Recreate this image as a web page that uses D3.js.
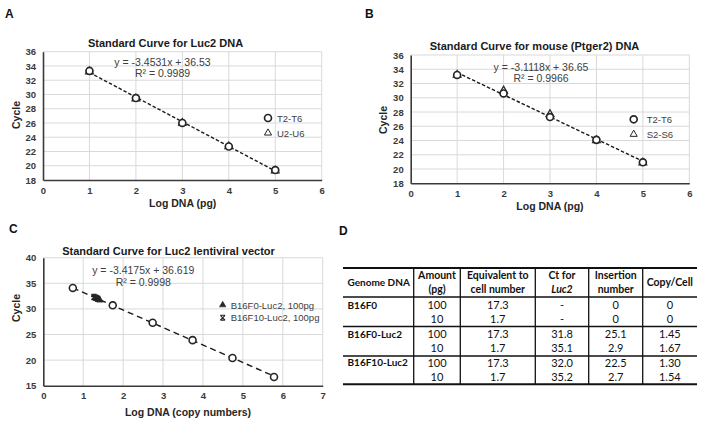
<!DOCTYPE html>
<html><head><meta charset="utf-8">
<script src="https://cdn.jsdelivr.net/npm/d3@7"></script>
<style>
body{margin:0;background:#fff;}
svg{display:block;}
</style></head>
<body>
<svg id="chart" width="704" height="424"></svg>
<script>
// ---------------- DATA ----------------
// Panel A: Standard Curve for Luc2 DNA
const aLogDNA = [1, 2, 3, 4, 5];
const aT2T6 = [33.3, 29.5, 26.0, 22.7, 19.4];
const aU2U6 = [33.2, 29.4, 26.0, 22.7, 19.3];
const aSlope = -3.4531, aIntercept = 36.53;
const aXTicks = [0, 1, 2, 3, 4, 5, 6];
const aYTicks = [18, 20, 22, 24, 26, 28, 30, 32, 34, 36];

// Panel B: Standard Curve for mouse (Ptger2) DNA
const bLogDNA = [1, 2, 3, 4, 5];
const bT2T6 = [33.2, 30.6, 27.3, 24.1, 20.95];
const bS2S6 = [33.2, 31.0, 27.7, 24.0, 20.9];
const bSlope = -3.1118, bIntercept = 36.65;
const bXTicks = [0, 1, 2, 3, 4, 5, 6];
const bYTicks = [18, 20, 22, 24, 26, 28, 30, 32, 34, 36];

// Panel C: Standard Curve for Luc2 lentiviral vector
const cLogCopies = [0.74, 1.74, 2.74, 3.74, 4.74, 5.78];
const cCycle = [34.1, 30.7, 27.3, 23.9, 20.4, 16.7];
const cB16F0X = [1.38, 1.42, 1.35];
const cB16F0Y = [31.9, 31.7, 32.0];
const cB16F10X = [1.27, 1.31, 1.36];
const cB16F10Y = [32.3, 32.2, 32.0];
const cSlope = -3.4175, cIntercept = 36.619;
const cXTicks = [0, 1, 2, 3, 4, 5, 6, 7];
const cYTicks = [15, 20, 25, 30, 35, 40];

// Panel D: table
const tHeaders = [["Genome DNA"], ["Amount", "(pg)"], ["Equivalent to", "cell number"], ["Ct for", "Luc2"], ["Insertion", "number"], ["Copy/Cell"]];
const tGenome = ["B16F0", "B16F0-Luc2", "B16F10-Luc2"];
const tAmount = ["100", "10", "100", "10", "100", "10"];
const tCells = ["17.3", "1.7", "17.3", "1.7", "17.3", "1.7"];
const tCt = ["-", "-", "31.8", "35.1", "32.0", "35.2"];
const tInsertion = ["0", "0", "25.1", "2.9", "22.5", "2.7"];
const tCopy = ["0", "0", "1.45", "1.67", "1.30", "1.54"];

// ---------------- DRAW ----------------
const svg = d3.select("#chart");
svg.append("rect").attr("width", 704).attr("height", 424).attr("fill", "#fff");

const FONT = "Liberation Sans, Arial, sans-serif";
const GRID = "#d9d9d9";
const AX = "#3a3a3a";
const MK = "#262626";

function starPath(s) {
  return `M${-s},${-s}L${s},${s}M${-s},${s}L${s},${-s}M${-s},${-s}L${s},${-s}M${-s},${s}L${s},${s}`;
}

function panel(o) {
  const g = svg.append("g");
  const x = d3.scaleLinear().domain(o.xDomain).range(o.xRange);
  const y = d3.scaleLinear().domain(o.yDomain).range(o.yRange);
  // grid
  g.append("g").selectAll("line").data(o.yTicks.slice(1)).join("line")
    .attr("x1", x(o.xDomain[0])).attr("x2", x(o.xDomain[1]))
    .attr("y1", d => y(d)).attr("y2", d => y(d))
    .attr("stroke", GRID).attr("stroke-width", 1);
  g.append("g").selectAll("line").data(o.xTicks.slice(1)).join("line")
    .attr("x1", d => x(d)).attr("x2", d => x(d))
    .attr("y1", y(o.yDomain[0])).attr("y2", y(o.yDomain[1]))
    .attr("stroke", GRID).attr("stroke-width", 1);
  // axes
  const ax = g.append("g").attr("transform", `translate(0,${y(o.yDomain[0])})`)
    .call(d3.axisBottom(x).tickValues(o.xTicks).tickSize(0).tickSizeOuter(0).tickPadding(7).tickFormat(d3.format("d")));
  const ay = g.append("g").attr("transform", `translate(${x(o.xDomain[0])},0)`)
    .call(d3.axisLeft(y).tickValues(o.yTicks).tickSize(0).tickSizeOuter(0).tickPadding(7).tickFormat(d3.format("d")));
  [ax, ay].forEach(a => {
    a.select(".domain").attr("stroke", AX).attr("stroke-width", 1.6);
    a.selectAll("text").attr("font-family", FONT).attr("font-size", 9.5).attr("font-weight", "bold").attr("fill", "#3a3a3a");
  });
  // trendline
  const x0 = d3.min(o.lineX), x1 = d3.max(o.lineX);
  g.append("line")
    .attr("x1", x(x0)).attr("y1", y(o.slope * x0 + o.intercept))
    .attr("x2", x(x1)).attr("y2", y(o.slope * x1 + o.intercept))
    .attr("stroke", "#1a1a1a").attr("stroke-width", 1.4).attr("stroke-dasharray", o.dash);
  // series
  o.series.forEach(s => {
    const pts = s.x.map((xv, i) => [xv, s.y[i]]);
    g.append("g").selectAll("path").data(pts).join("path")
      .attr("transform", d => `translate(${x(d[0])},${y(d[1])})`)
      .attr("d", s.path)
      .attr("fill", s.fill).attr("stroke", MK).attr("stroke-width", s.sw);
  });
  // title
  g.append("text").attr("x", o.titleX).attr("y", o.titleY).attr("text-anchor", "middle")
    .attr("font-family", FONT).attr("font-size", o.titleSize).attr("font-weight", "bold").attr("fill", "#1a1a1a").text(o.title);
  // equation
  g.append("text").attr("x", o.eqX).attr("y", o.eqY).attr("text-anchor", "middle")
    .attr("font-family", FONT).attr("font-size", 10.5).attr("fill", "#404040").text(o.eq1);
  g.append("text").attr("x", o.eqX).attr("y", o.eqY + 11.5).attr("text-anchor", "middle")
    .attr("font-family", FONT).attr("font-size", 10.5).attr("fill", "#404040").text(o.eq2);
  // axis titles
  g.append("text").attr("x", o.xLabX).attr("y", o.xLabY).attr("text-anchor", "middle")
    .attr("font-family", FONT).attr("font-size", 10.5).attr("font-weight", "bold").attr("fill", "#262626").text(o.xLabel);
  g.append("text").attr("transform", `translate(${o.yLabX},${o.yLabY}) rotate(-90)`).attr("text-anchor", "middle")
    .attr("font-family", FONT).attr("font-size", 10.5).attr("font-weight", "bold").attr("fill", "#262626").text("Cycle");
  // legend
  o.legend.forEach((l, i) => {
    const ly = o.legY + i * o.legDy;
    g.append("path").attr("transform", `translate(${o.legX},${ly})`).attr("d", l.path)
      .attr("fill", l.fill).attr("stroke", MK).attr("stroke-width", l.sw);
    g.append("text").attr("x", o.legX + o.legTx).attr("y", ly + 3.5)
      .attr("font-family", FONT).attr("font-size", 9.5).attr("fill", "#404040").text(l.label);
  });
  // panel letter
  g.append("text").attr("x", o.letX).attr("y", o.letY).attr("font-family", FONT)
    .attr("font-size", 12).attr("font-weight", "bold").attr("fill", "#111").text(o.letter);
}

const circ = d3.symbol(d3.symbolCircle, 38)();
const tri = d3.symbol(d3.symbolTriangle, 26)();
const triLeg = d3.symbol(d3.symbolTriangle, 22)();
const triFill = d3.symbol(d3.symbolTriangle, 18)();

panel({
  letter: "A", letX: 5, letY: 18,
  xDomain: [0, 6], xRange: [43, 321.7], yDomain: [18, 36], yRange: [180, 51.7],
  xTicks: aXTicks, yTicks: aYTicks,
  lineX: aLogDNA, slope: aSlope, intercept: aIntercept, dash: "3.5,2",
  series: [
    {x: aLogDNA, y: aU2U6, path: tri, fill: "none", sw: 1.2},
    {x: aLogDNA, y: aT2T6, path: circ, fill: "#fff", sw: 1.7}
  ],
  title: "Standard Curve for Luc2 DNA", titleX: 165.5, titleY: 47, titleSize: 11,
  eq1: "y = -3.4531x + 36.53", eq2: "R² = 0.9989", eqX: 162.5, eqY: 65.8,
  xLabel: "Log DNA (pg)", xLabX: 182.7, xLabY: 207, yLabX: 20, yLabY: 115,
  legX: 268, legY: 118, legDy: 15, legTx: 9,
  legend: [{path: circ, fill: "#fff", sw: 1.7, label: "T2-T6"}, {path: triLeg, fill: "none", sw: 1, label: "U2-U6"}]
});

panel({
  letter: "B", letX: 365, letY: 18,
  xDomain: [0, 6], xRange: [410.7, 689.3], yDomain: [18, 36], yRange: [183.3, 55],
  xTicks: bXTicks, yTicks: bYTicks,
  lineX: bLogDNA, slope: bSlope, intercept: bIntercept, dash: "3.5,2",
  series: [
    {x: bLogDNA, y: bS2S6, path: tri, fill: "none", sw: 1.2},
    {x: bLogDNA, y: bT2T6, path: circ, fill: "#fff", sw: 1.7}
  ],
  title: "Standard Curve for mouse (Ptger2) DNA", titleX: 534.5, titleY: 50, titleSize: 11,
  eq1: "y = -3.1118x + 36.65", eq2: "R² = 0.9966", eqX: 541, eqY: 70.5,
  xLabel: "Log DNA (pg)", xLabX: 550, xLabY: 210, yLabX: 387, yLabY: 120,
  legX: 633.7, legY: 119.3, legDy: 15, legTx: 13,
  legend: [{path: circ, fill: "#fff", sw: 1.7, label: "T2-T6"}, {path: triLeg, fill: "none", sw: 1, label: "S2-S6"}]
});

panel({
  letter: "C", letX: 9, letY: 233,
  xDomain: [0, 7], xRange: [43.3, 322.7], yDomain: [15, 40], yRange: [385.7, 257.7],
  xTicks: cXTicks, yTicks: cYTicks,
  lineX: cLogCopies, slope: cSlope, intercept: cIntercept, dash: "6,4",
  series: [
    {x: cLogCopies, y: cCycle, path: circ, fill: "#fff", sw: 1.6},
    {x: cB16F0X, y: cB16F0Y, path: triFill, fill: MK, sw: 0.8},
    {x: cB16F10X, y: cB16F10Y, path: starPath(2.6), fill: "none", sw: 1.3}
  ],
  title: "Standard Curve for Luc2 lentiviral vector", titleX: 168.5, titleY: 255, titleSize: 11,
  eq1: "y = -3.4175x + 36.619", eq2: "R² = 0.9998", eqX: 143.3, eqY: 274,
  xLabel: "Log DNA (copy numbers)", xLabX: 188, xLabY: 415.5, yLabX: 20, yLabY: 308,
  legX: 222.7, legY: 305, legDy: 12.7, legTx: 8,
  legend: [{path: triFill, fill: MK, sw: 0.6, label: "B16F0-Luc2,  100pg"}, {path: starPath(2.4), fill: "none", sw: 1.1, label: "B16F10-Luc2,  100pg"}]
});

// ---------------- TABLE (D) ----------------
svg.append("text").attr("x", 339).attr("y", 235).attr("font-family", FONT)
  .attr("font-size", 12).attr("font-weight", "bold").attr("fill", "#111").text("D");

const TF = "Lato, 'Open Sans', sans-serif";
const colEdges = [343, 413.7, 460.3, 535.3, 588.7, 642.7, 697];
const tTop = 268, tHeadBot = 297, groupBots = [326.5, 356, 384.3];
const rowY = [305, 319.5, 334, 348.5, 362.8, 377.5];
const tg = svg.append("g");
// lines
tg.append("line").attr("x1", colEdges[0]).attr("x2", colEdges[6]).attr("y1", tTop).attr("y2", tTop).attr("stroke", "#111").attr("stroke-width", 2);
tg.append("line").attr("x1", colEdges[0]).attr("x2", colEdges[6]).attr("y1", tHeadBot).attr("y2", tHeadBot).attr("stroke", "#111").attr("stroke-width", 1.5);
groupBots.forEach((yv, i) => tg.append("line").attr("x1", colEdges[0]).attr("x2", colEdges[6]).attr("y1", yv).attr("y2", yv)
  .attr("stroke", "#111").attr("stroke-width", i === 2 ? 2 : 1.5));
colEdges.slice(1, 6).forEach(xv => tg.append("line").attr("x1", xv).attr("x2", xv).attr("y1", tTop).attr("y2", groupBots[2]).attr("stroke", "#111").attr("stroke-width", 1.3));
// headers
tHeaders.forEach((h, ci) => {
  const cx = ci === 0 ? colEdges[0] + 4.5 : (colEdges[ci] + colEdges[ci + 1]) / 2;
  const ys = h.length === 1 ? [286] : [279, 293];
  h.forEach((t, li) => {
    tg.append("text").attr("x", cx).attr("y", ys[li]).attr("text-anchor", ci === 0 ? "start" : "middle")
      .attr("font-family", TF).attr("font-size", ci === 0 ? 10 : 10.5).attr("font-weight", "bold")
      .attr("font-style", ci === 3 && li === 1 ? "italic" : "normal").attr("fill", "#111").text(t);
  });
});
// body
tGenome.forEach((gname, i) => {
  tg.append("text").attr("x", colEdges[0] + 4.5).attr("y", rowY[i * 2] + 3.5).attr("font-family", TF)
    .attr("font-size", 10).attr("font-weight", "bold").attr("fill", "#111").text(gname);
});
[tAmount, tCells, tCt, tInsertion, tCopy].forEach((col, k) => {
  const ci = k + 1;
  const cx = (colEdges[ci] + colEdges[ci + 1]) / 2;
  col.forEach((v, r) => {
    tg.append("text").attr("x", cx).attr("y", rowY[r] + 3.8).attr("text-anchor", "middle")
      .attr("font-family", TF).attr("font-size", 11).attr("fill", "#111").text(v);
  });
});
</script>
</body></html>
